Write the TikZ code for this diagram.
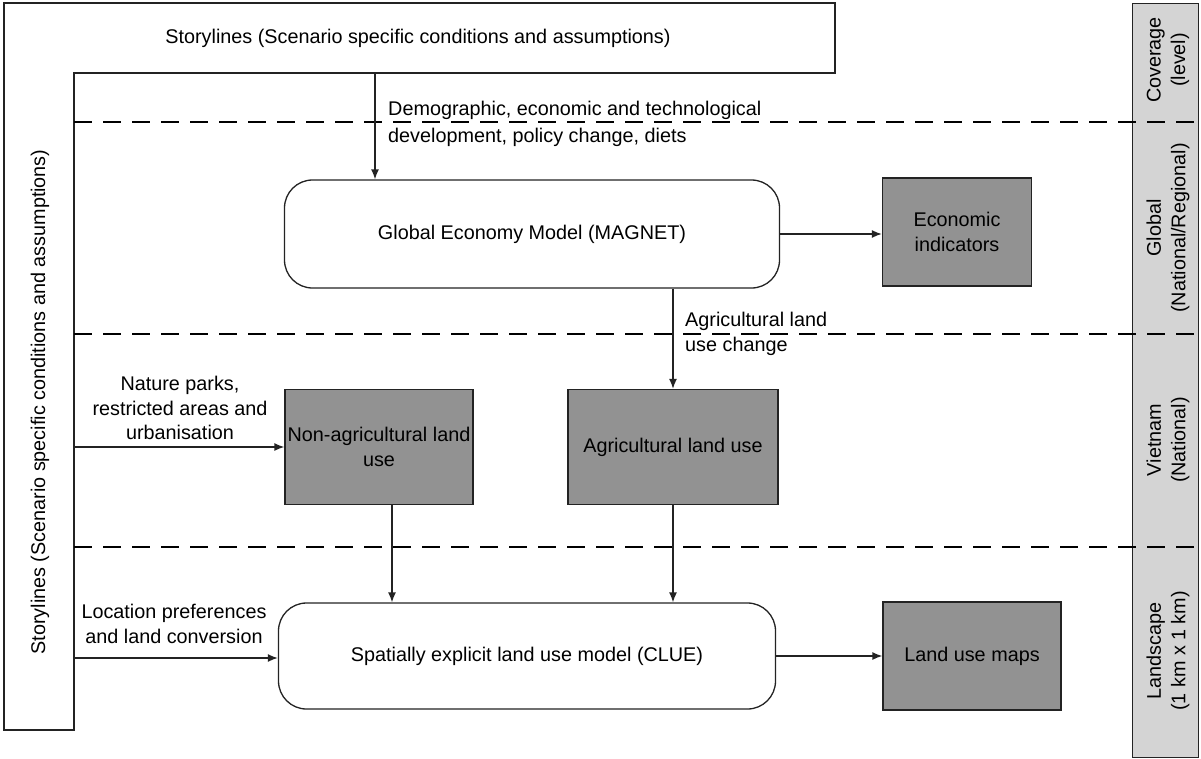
\documentclass[tikz,border=0pt]{standalone}
\usepackage{fontspec}
\setmainfont{Liberation Sans}
\usetikzlibrary{arrows.meta}
\definecolor{boxgray}{RGB}{146,146,146}
\definecolor{bandgray}{RGB}{212,212,212}
\definecolor{linegray}{RGB}{35,35,35}
\tikzset{
  model/.style={draw=linegray, line width=1.3pt, rounded corners=28pt, fill=white, align=center, inner sep=0pt},
  output/.style={draw=linegray, line width=1.3pt, fill=boxgray, align=center, inner sep=0pt},
  flow/.style={-{Latex[length=10pt,width=8pt]}, draw=linegray, line width=1.4pt},
  level/.style={draw=black, line width=2.5pt, dash pattern=on 18pt off 11pt},
  lbl/.style={align=left, inner sep=0pt},
}

\begin{document}
\begin{tikzpicture}[x=1pt,y=-1pt,font=\fontsize{19.8}{24.5}\selectfont]
  \useasboundingbox (0,0) rectangle (1201,758);

  % coverage band on the right
  \node[draw=linegray, line width=1pt, fill=bandgray, minimum width=66pt, minimum height=754pt, inner sep=0pt] (band) at (1165,380) {};
  \node[rotate=90, align=center] (cover) at (1168,60) {Coverage\\(level)};
  \node[rotate=90, align=center] (global) at (1168,228) {Global\\(National/Regional)};
  \node[rotate=90, align=center] (vietnam) at (1168,440) {Vietnam\\(National)};
  \node[rotate=90, align=center] (landsc) at (1168,651) {Landscape\\(1 km x 1 km)};

  % storylines frame
  \draw[line width=1.3pt, linegray] (4,3) -- (835,3) -- (835,73) -- (74,73) -- (74,730) -- (4,730) -- cycle;
  \node (storytop) at (418,38) {Storylines (Scenario specific conditions and assumptions)};
  \node[rotate=90] (storyleft) at (40,402) {Storylines (Scenario specific conditions and assumptions)};

  \foreach \y in {122,334,547}
    \draw[level] (74,\y) -- (1198,\y);

  \node[model, minimum width=495pt, minimum height=108pt] (magnet) at (532,234) {Global Economy Model (MAGNET)};
  \node[output, minimum width=149pt, minimum height=108pt] (econ) at (957,232) {Economic\\indicators};
  \node[output, minimum width=188pt, minimum height=115pt] (nonag) at (379,447) {Non-agricultural land\\use};
  \node[output, minimum width=210pt, minimum height=115pt] (ag) at (673,447) {Agricultural land use};
  \node[model, minimum width=497pt, minimum height=106pt] (clue) at (527,656) {Spatially explicit land use model (CLUE)};
  \node[output, minimum width=178pt, minimum height=108pt] (maps) at (972,656) {Land use maps};

  \coordinate (drivers) at (375,73);
  \coordinate (parks) at (74,447);
  \coordinate (prefs) at (74,658);

  \draw[flow] (drivers) -- (drivers |- magnet.north);
  \draw[flow] (magnet.east) -- (magnet.east -| econ.west);
  \draw[flow] (ag.north |- magnet.south) -- (ag.north);
  \draw[flow] (parks) -- (nonag.west);
  \draw[flow] ([xshift=13pt]nonag.south) -- ([xshift=13pt]nonag.south |- clue.north);
  \draw[flow] (ag.south) -- (ag.south |- clue.north);
  \draw[flow] (prefs) -- (prefs -| clue.west);
  \draw[flow] (clue.east) -- (clue.east -| maps.west);

  \node[lbl, anchor=west] (driverlbl) at (388,124) {Demographic, economic and technological\\[2pt]development, policy change, diets};
  \node[lbl, anchor=west] (aglbl) at (685,334) {Agricultural land\\use change};
  \node[align=center, inner sep=0pt] (parkslbl) at (180,408) {Nature parks,\\restricted areas and\\urbanisation};
  \node[align=center, inner sep=0pt] (prefslbl) at (174,624) {Location preferences\\and land conversion};
\end{tikzpicture}
\end{document}
